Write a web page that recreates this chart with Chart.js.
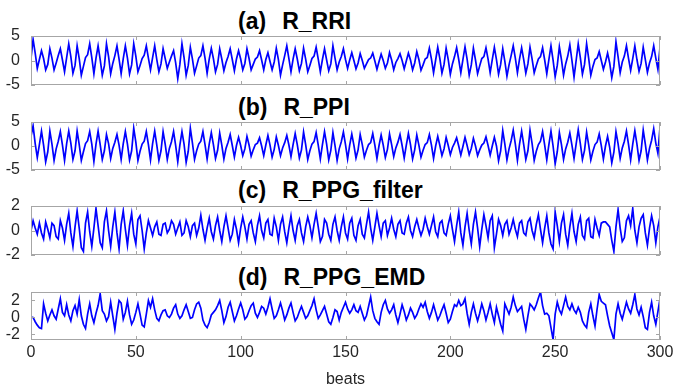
<!DOCTYPE html>
<html><head><meta charset="utf-8">
<script src="https://cdn.jsdelivr.net/npm/chart.js@4.4.1/dist/chart.umd.min.js"></script>
<style>
html,body{margin:0;padding:0;background:#fff;width:691px;height:390px;overflow:hidden;position:relative}
.t{position:absolute;left:238px;font:bold 23px "Liberation Sans",Arial,sans-serif;line-height:23px;color:#000;white-space:pre}
.t span{margin-left:16px}
.c{position:absolute;left:0;width:691px}
canvas{display:block}
</style></head><body>
<div class="t" style="top:10px">(a)<span>R_RRI</span></div>
<div class="t" style="top:96px">(b)<span>R_PPI</span></div>
<div class="t" style="top:179px">(c)<span>R_PPG_filter</span></div>
<div class="t" style="top:266px">(d)<span>R_PPG_EMD</span></div>
<div class="c" style="top:26px;height:70px"><canvas id="ca" width="691" height="70"></canvas></div>
<div class="c" style="top:112px;height:70px"><canvas id="cb" width="691" height="70"></canvas></div>
<div class="c" style="top:196px;height:70px"><canvas id="cc" width="691" height="70"></canvas></div>
<div class="c" style="top:282px;height:108px"><canvas id="cd" width="691" height="108"></canvas></div>
<script>
const titles = ["(a) R_RRI", "(b) R_PPI", "(c) R_PPG_filter", "(d) R_PPG_EMD"];
const xLabel = "beats";
const xTicks = [0, 50, 100, 150, 200, 250, 300];
const yTicksAB = [-5, 0, 5];
const yTicksC = [-2, 0, 2];
const yTicksD = [-2, 0, 2];

const rRRI = [
0.5, 4.3, 1.5, -1.6,
0.2, 2.0, 0.4, -1.9, -0.8,
2.4, 0.5, -1.9, -0.5,
1.0, 2.4, 0.1, -2.3,
0.6, 3.4, 0.8, -2.6, -1.0,
3.0, 0.4, -3.0, -1.2, 0.6,
1.2, 3.4, 0.6, -2.7,
0.5, 3.0, 0.2, -3.0, -1.1,
3.4, 0.8, -2.7, -0.6,
1.0, 3.0, 0.3, -2.7,
0.4, 3.0, 0.5, -2.7, -0.9,
3.4, 0.9, -2.3, -1.0, 0.4,
1.1, 3.0, 0.5, -1.9,
0.6, 3.0, 0.2, -2.3, -0.7,
2.4, 0.4, -1.6, -0.3,
0.9, 2.0, -0.5, -3.7,
-0.8, 3.4, 0.6, -3.0, -1.0,
2.7, 0.3, -2.6, -1.1, 0.5,
1.0, 3.0, 0.5, -2.6,
0.3, 2.5, 0.4, -2.3, -0.8,
2.4, 0.3, -2.1, -0.4,
0.8, 2.4, 0.2, -2.1,
0.3, 2.0, 0.3, -1.9, -0.6,
2.4, 0.4, -1.9, -0.8, 0.3,
0.7, 2.0, 0.1, -1.9,
0.2, 1.6, -0.2, -1.9, -0.3,
2.5, 0.2, -3.0, -0.9,
1.0, 3.0, 0.4, -2.3,
0.3, 2.4, 0.3, -2.1, -0.6,
2.5, 0.3, -2.3, -1.0, 0.4,
0.9, 2.7, 0.3, -2.3,
0.2, 2.4, 0.1, -2.1, -0.7,
3.0, 0.5, -1.9, -0.3,
0.8, 2.4, 0.2, -1.6,
0.1, 1.6, 0.0, -1.7, -0.5,
1.4, 0.0, -1.6, -0.7, 0.2,
0.5, 1.5, -0.1, -1.8,
-0.2, 1.3, 0.0, -1.6, -0.5,
1.6, 0.1, -1.9, -0.4,
0.4, 1.4, 0.0, -1.7,
-0.1, 1.5, 0.1, -1.9, -0.5,
1.8, 0.2, -2.0, -0.9, 0.3,
0.6, 2.5, 0.3, -2.5,
0.1, 2.7, 0.4, -2.6, -0.8,
2.5, 0.2, -2.8, -0.7,
0.8, 2.6, 0.2, -2.5,
0.2, 2.8, 0.3, -3.0, -0.9,
2.5, 0.1, -2.7, -1.1, 0.4,
0.8, 2.6, 0.3, -2.5,
0.2, 2.7, 0.2, -2.8, -0.8,
2.4, -0.2, -3.2, -0.9,
1.0, 3.0, 0.5, -2.5,
0.3, 2.6, 0.2, -2.6, -0.7,
2.7, 0.3, -2.5, -1.0, 0.3,
0.8, 2.6, 0.1, -2.7,
0.2, 3.0, 0.1, -3.3, -1.0,
2.8, 0.2, -3.0, -0.7,
0.9, 3.2, 0.0, -3.4,
0.0, 3.4, 0.6, -2.8, -0.8,
3.4, 0.4, -3.0, -1.2, 0.2,
0.5, 1.8, 0.0, -1.8,
-0.3, 1.5, -0.5, -3.5, -1.2,
3.8, 0.8, -2.5, -0.3,
0.9, 3.0, 0.4, -2.0,
0.4, 3.0, 0.2, -2.2, -0.6,
2.7, 0.2, -2.4, -0.5,
0.8, 3.0, 0.5, -1.8, 2.7
];

const rPPI = [
2.0, 4.2, 0.5, -2.4,
0.3, 3.1, 0.2, -3.3, -1.2,
3.1, 0.4, -3.0, -0.6,
1.0, 3.0, 0.2, -3.0,
0.5, 3.1, 0.6, -2.8, -1.0,
3.1, 0.3, -3.0, -1.2, 0.5,
1.1, 3.0, 0.4, -3.2,
0.4, 3.1, 0.3, -2.8, -1.0,
2.4, 0.5, -2.6, -0.5,
0.8, 2.4, 0.2, -2.8,
0.5, 3.0, 0.4, -2.9, -1.0,
3.7, 0.8, -3.0, -1.1, 0.4,
1.0, 3.0, 0.3, -2.9,
0.5, 3.1, 0.2, -3.0, -1.0,
3.0, 0.4, -2.8, -0.5,
0.9, 3.0, 0.1, -3.3,
0.2, 3.0, 0.4, -3.4, -1.1,
3.7, 0.6, -2.8, -1.0, 0.4,
1.0, 3.0, 0.3, -2.7,
0.4, 2.8, 0.3, -2.6, -0.9,
2.7, 0.2, -2.7, -0.5,
0.8, 2.4, 0.1, -2.3,
0.1, 1.8, 0.1, -2.0, -0.6,
2.0, 0.2, -2.1, -0.8, 0.3,
0.6, 1.7, 0.0, -2.0,
0.2, 2.2, 0.2, -2.3, -0.7,
1.9, 0.1, -2.0, -0.4,
0.7, 2.2, 0.2, -2.2,
0.3, 2.6, 0.3, -2.5, -0.8,
2.9, 0.3, -2.8, -1.0, 0.4,
0.9, 2.8, 0.2, -2.7,
0.3, 3.0, 0.4, -2.9, -0.9,
2.8, 0.1, -3.0, -0.6,
0.9, 2.9, 0.3, -2.7,
0.2, 2.5, 0.2, -2.5, -0.8,
2.4, 0.3, -2.3, -0.9, 0.3,
0.7, 2.6, 0.2, -2.6,
0.1, 2.3, 0.2, -2.4, -0.7,
2.5, 0.3, -2.2, -0.4,
0.8, 2.4, 0.1, -2.5,
0.2, 2.6, 0.3, -2.7, -0.8,
2.3, 0.2, -2.3, -0.9, 0.3,
0.7, 2.4, 0.2, -2.6,
0.0, 2.0, 0.1, -2.0, -0.6,
1.8, 0.1, -1.8, -0.3,
0.6, 1.7, 0.0, -1.9,
-0.1, 1.8, 0.1, -1.8, -0.5,
1.6, 0.0, -2.0, -0.8, 0.2,
0.6, 1.9, 0.1, -1.9,
0.0, 1.8, 0.0, -3.1, -1.0,
3.2, 0.4, -2.9, -0.6,
1.1, 3.3, 0.4, -3.0,
0.4, 3.1, 0.3, -2.8, -1.0,
3.3, 0.5, -3.0, -1.1, 0.3,
1.0, 3.0, 0.2, -2.9,
0.3, 3.1, 0.0, -3.7, -1.2,
2.8, 0.3, -2.8, -0.6,
0.8, 2.7, 0.2, -2.6,
0.4, 3.4, 0.5, -2.8, -0.9,
2.9, 0.2, -2.9, -1.1, 0.3,
0.8, 2.5, 0.1, -2.7,
0.0, 2.0, -0.3, -3.5, -1.3,
3.0, 0.5, -2.6, -0.4,
1.0, 3.1, 0.3, -2.9,
0.4, 3.2, 0.4, -3.0, -1.0,
3.3, 0.4, -2.9, -0.5,
1.2, 3.6, 0.6, -1.5, 3.9
];

const rPPGfilter = [
0.0, 0.8, 0.2, -0.3, 0.6, -0.2, -0.7, 0.7, 0.1, -0.6, 0.6, 0.4, -0.5, -0.7, 0.8, 0.2, -0.8,
0.5, 1.4, -0.2, -1.3, 0.3, 1.6, 0.2, -1.4, -1.7, 0.6, 1.5, -0.1, -1.3, 0.2, 1.8, 0.4,
-1.0, -1.4, 0.7, 1.6, 0.0, -1.3, 0.3, 1.5, -0.2, -1.5, 0.5, 1.6, 0.1, -1.2, 0.4, 1.4,
-0.3, -1.1, 0.9, 1.2, 0.0, -1.5,
-0.2, 0.8, 0.2, -0.4, 0.3, 0.7, -0.3, -0.4, 0.5, 0.6, -0.2, 0.1, 0.8, 0.5, -0.3, 0.2, 0.7, -0.4, -0.2, 0.8, 0.3, -0.5, 0.4, 0.6, -0.4, 0.2, 1.25,
0.1, -0.8, 0.2, 1.0, -0.1, -0.7, 0.4, 1.1, 0.0, -0.9, 0.3, 1.2, 0.2, -0.8, -0.3, 0.9,
0.1, -1.0, 0.2, 1.1, 0.3, -0.7, 0.5, 0.8, -0.2, -0.9, 0.4, 1.2, 0.0, -0.6, 0.6, 0.9,
-0.3, -0.4, 1.0, 0.3, -0.8, 0.5, 1.1, -0.1, -1.0, 0.2, 1.2, 0.0, -0.8, 0.4, 0.9, -0.2,
-0.9, 0.3, 1.1, 0.4, -0.6, 0.5, 1.4, 0.3, -0.9, -0.5, 0.9, 0.6, -0.3, -0.8, 0.5, 1.1,
0.0, -0.8, 0.3, 1.1, -0.2, -0.7, 0.6, 1.0, -0.4, -0.8, 0.4, 0.9, -0.3, -0.6, 0.5, 1.5,
0.2, -0.8, 0.3, 1.4, 0.4, -0.5, 0.6, 0.8,
-0.4, 0.2, 1.0, 0.1, -0.5, 0.5, 0.8, -0.2, -0.3, 0.6, 1.1, 0.0, -0.5, 0.3, 0.9, 0.2,
-0.4, 0.1, 1.0, 0.3, -0.3, 0.4, 1.1, -0.1, -0.5, 0.6, 0.8, -0.2, -0.4, 0.5, 1.2, 0.1,
-0.9, 0.4, 1.5, -0.2, -1.2, 0.3, 1.4, 0.0, -1.1, 0.5, 1.5, 0.2, -1.3, 0.1, 1.3, 0.4,
-0.6, 0.8, 1.2, -1.4,
-0.3, 0.9, 0.4, -0.4, 0.5, 0.8, -0.3, 0.2, 0.9, 0.1, -0.5, 0.6, 0.8, -0.2, -0.4, 0.7,
1.0, 0.0, -0.6, 0.5,
1.3, 0.1, -1.0, 0.2, 1.2, -0.2, -1.1, -1.5, 1.5, 0.4, -0.9, 0.6, 1.3, -0.3, -1.2, 0.3,
1.4, -0.1, -0.9, 0.5, 1.1, -0.4, -0.7, 0.8, 1.0, -0.5, -0.6, 0.9, 0.2, -0.4, 0.6, 0.7,
0.7, 0.5, 0.3, -0.8, -1.7, 0.3, 1.7, 0.2, -0.9, -0.6, 0.8, 1.2, 0.4, 1.8, 0.0, -1.0,
0.3, 1.0, 1.3, -0.2, -1.2, 0.2, 1.2, 0.4,
-1.0, 0.3, 1.1
];

const rPPGemd = [
0.05, 0.0, -0.5, -0.9, -1.2, -1.3, 1.6, 0.5, -0.4, 0.3,
0.9, 0.2, -0.2, 1.0, 2.2, 0.6, 0.2, 1.5, 0.3, -0.4,
0.8, 1.4, 0.4, 2.1, 0.2, -0.8, -1.3, 0.4, 1.6, 0.2,
-0.6, 0.5, 1.4, 2.8, 0.8, 0.4, -0.4, 0.1, 1.8, 0.2,
-1.4, 0.5, 2.0, 1.7, -0.2, 0.6, 1.9, 0.3, -0.8, -0.3,
0.6, 1.6, 0.4, -0.9, -1.1, 0.4, 2.0, 1.2, 2.2, 0.9,
-0.1, -0.4, 0.3, 0.8, 0.9, 0.2, 0.0, 0.4, 1.1, 1.5,
0.4, -0.1, 0.2, 0.9, 1.5, 0.7, -0.1, 0.0, 0.9, 1.6,
1.8, 1.1, -0.3, -0.9, -1.2, -0.6, 0.3, 0.6, 0.9, 1.4,
2.0, 0.8, -0.6, 0.1, 1.2, 1.8, 0.7, -0.4, 0.2, 1.0,
1.7, 0.9, -0.2, 0.1, 0.8, 1.4, 1.7, 0.5, 0.0, 0.6,
1.3, 1.1, 0.4, 1.2, 2.2, 1.0, -0.1, 0.2, 0.9, 1.7,
0.8, -0.3, 0.3, 1.1, 1.7, 0.6, -0.4, 0.0, 0.7, 1.3,
0.6, -0.1, 0.2, 0.8, 1.4, 2.2, 0.9, -0.1, 0.3, 0.8,
1.3, 0.4, -0.5, -0.8, 0.0, 0.9, 0.7, -0.3, 0.6, 1.2,
1.8, 1.0, 0.5, 0.9, 1.5, 0.8, 0.6, 1.3, 0.5, -0.3,
0.2, 1.3, 2.4, 0.8, -0.1, -0.5, -0.8, 0.6, 1.5, 2.0,
1.0, 0.5, 0.9, 1.5, 0.3, -0.6, 0.4, 1.5, 0.7, -0.3,
0.3, 1.1, 0.6, -0.1, 0.3, 1.0, 1.6, 1.2, 1.8, 0.7,
-0.1, 0.6, 1.5, 0.6, -0.3, 0.2, 0.9, 1.5, 0.5, -0.6,
-0.2, 0.7, 1.5, 1.3, 2.0, 1.4, 1.6, 2.2, 0.5, -0.8,
0.6, 1.6, 0.5, -0.4, 0.5, 1.6, 0.8, -0.3, 0.6, 1.6,
0.4, -0.6, 1.2, 0.2, -0.8, -1.6, 1.6, 1.0, 0.4, 1.2,
2.4, 1.4, 0.7, 1.0, 1.3, -0.2, -1.4, 0.2, 1.6, 1.3,
0.9, 1.5, 2.3, 3.0, 1.4, 0.4, 0.5, 0.2, -1.2, -2.6,
0.4, 1.8, 0.9, 0.4, 1.4, 2.4, 1.3, 0.9, 1.6, 0.9,
0.5, 1.2, 0.6, -0.4, -0.9, -1.2, 0.6, 1.6, 0.2, -1.0,
1.0, 2.7, 1.9, 1.7, 1.5, 0.2, -1.0, -1.8, -2.6, 0.4,
1.6, 0.5, -0.2, 0.8, 1.8, 1.0, 0.5, 1.5, 2.7, 1.0,
0.3, 1.2, 0.1, -1.2, -1.4, 0.6, 1.8, 0.2, -0.8, 0.7,
2.2
];

const TICK_FONT = {family: "'Liberation Sans', Arial, sans-serif", size: 16};
const TEXT_COLOR = '#262626';
const BOX_COLOR = '#a6a6a6';

const boxPlugin = {
  id: 'box',
  afterDraw(chart, args, opts) {
    const {ctx, chartArea: a, scales} = chart;
    ctx.save();
    ctx.strokeStyle = BOX_COLOR;
    ctx.lineWidth = 1;
    ctx.beginPath();
    for (const v of xTicks) {
      const px = Math.round(scales.x.getPixelForValue(v)) + 0.5;
      ctx.moveTo(px, a.bottom); ctx.lineTo(px, a.bottom - 4);
      ctx.moveTo(px, a.top); ctx.lineTo(px, a.top + 4);
    }
    for (const v of opts.yTicks) {
      const py = Math.round(scales.y.getPixelForValue(v)) + 0.5;
      ctx.moveTo(a.left, py); ctx.lineTo(a.left + 4, py);
      ctx.moveTo(a.right, py); ctx.lineTo(a.right - 4, py);
    }
    ctx.stroke();
    ctx.strokeRect(Math.round(a.left) + 0.5, Math.round(a.top) + 0.5,
                   Math.round(a.right - a.left) - 1, Math.round(a.bottom - a.top) - 1);
    ctx.restore();
  }
};

function makePanel(id, values, ymin, ymax, yTicks, showX, padTop, padBottom) {
  const pts = values.map((v, i) => ({x: i, y: v}));
  return new Chart(document.getElementById(id), {
    type: 'line',
    data: {datasets: [{data: pts, borderColor: '#0000ff', borderWidth: 1.7,
      pointRadius: 0, tension: 0, fill: false}]},
    plugins: [boxPlugin],
    options: {
      responsive: false, animation: false, devicePixelRatio: 1,
      layout: {padding: {top: padTop, bottom: padBottom, left: 0, right: 31}},
      plugins: {legend: {display: false}, tooltip: {enabled: false}, box: {yTicks}},
      scales: {
        x: {
          type: 'linear', min: 0, max: 300, display: showX,
          grid: {display: false, drawTicks: false}, border: {display: false},
          afterBuildTicks: s => { s.ticks = xTicks.map(v => ({value: v})); },
          ticks: {font: TICK_FONT, color: TEXT_COLOR, padding: 3, maxRotation: 0, autoSkip: false},
          title: {display: showX, text: xLabel, color: TEXT_COLOR,
                  font: {family: "'Liberation Sans', Arial, sans-serif", size: 16},
                  padding: {top: 0, bottom: 1}},
          afterFit: s => {
            if (showX) s.height = 50;
            s.paddingLeft = 0; s.paddingRight = 0; s.paddingTop = 0; s.paddingBottom = 0;
          }
        },
        y: {
          min: ymin, max: ymax,
          grid: {display: false, drawTicks: false}, border: {display: false},
          afterBuildTicks: s => { s.ticks = yTicks.map(v => ({value: v})); },
          ticks: {font: TICK_FONT, color: TEXT_COLOR, padding: 11, autoSkip: false},
          afterFit: s => {
            s.width = 31;
            s.paddingTop = 0; s.paddingBottom = 0; s.paddingLeft = 0; s.paddingRight = 0;
          }
        }
      }
    }
  });
}

makePanel('ca', rRRI, -5, 5, yTicksAB, false, 10, 11);
makePanel('cb', rPPI, -5, 5, yTicksAB, false, 10, 12);
makePanel('cc', rPPGfilter, -2, 2, yTicksC, false, 10, 11);
makePanel('cd', rPPGemd, -2.65, 3.0, yTicksD, true, 10, 0);

const lens = [rRRI.length, rPPI.length, rPPGfilter.length, rPPGemd.length];
if (lens.some(n => n !== 301)) throw new Error('lengths ' + lens.join(','));
</script>
</body></html>
